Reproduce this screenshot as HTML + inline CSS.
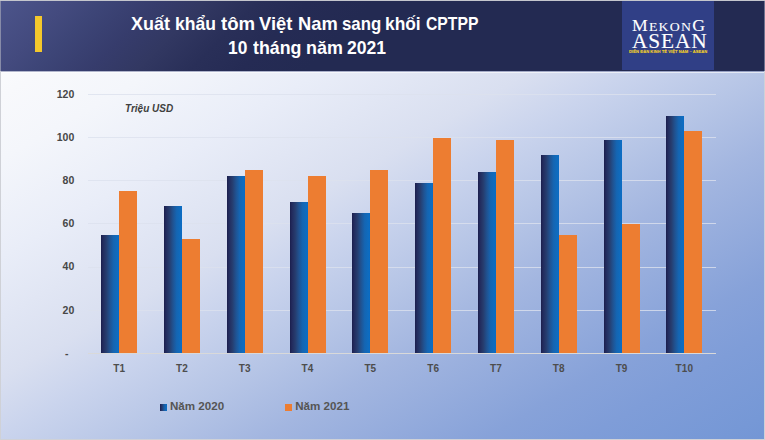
<!DOCTYPE html>
<html><head><meta charset="utf-8">
<style>
*{margin:0;padding:0;box-sizing:border-box}
html,body{width:765px;height:440px;overflow:hidden;background:#cfd1d7;font-family:"Liberation Sans",sans-serif;position:relative}
#hdr{position:absolute;left:1px;top:1px;width:762.5px;height:70px;background:linear-gradient(135deg,#4d558c 0%,#4a5288 2%,#434a7e 8.5%,#3d4577 12.5%,#363c6c 19%,#323862 24.5%,#292f58 31%,#252b54 37%,#232a52 45%,#232a52 100%)}
#bar{position:absolute;left:35px;top:16px;width:7px;height:36px;background:#f4c82c}
.tw{position:absolute;color:#fff;font-weight:bold;white-space:nowrap;font-size:17.8px;transform-origin:0 0}
#logo{position:absolute;left:621.5px;top:1.4px;width:92px;height:69px;background:#303f86}
.lg{position:absolute;font-weight:normal;-webkit-text-stroke:0.1px #fff;font-family:"Liberation Serif",serif;color:#fff;white-space:nowrap;line-height:1}
#lgy{position:absolute;left:629px;top:49.6px;font-size:4.1px;letter-spacing:0.05px;line-height:4px;font-weight:bold;color:#f5d327;white-space:nowrap;-webkit-text-stroke:0.1px #f5d327}
#chart{position:absolute;left:1px;top:71px;width:762.5px;height:367.5px;background:linear-gradient(150deg,#fafbfd 0%,#f8f9fc 3%,#f4f6fb 11%,#e9edf8 23%,#d9dff0 38%,#cad4ed 45%,#b6c5e6 55%,#a3b6e0 64%,#87a2d9 80%,#7f9dd8 87%,#7698d6 97%,#7396d5 100%)}
.g{position:absolute;left:87.5px;width:628.5px;height:1px;background:rgba(220,225,238,.8)}
#axis{position:absolute;left:87.5px;width:628.5px;top:353px;height:1.3px;background:#d9d9d9}
.yl{position:absolute;left:40px;width:34.3px;text-align:right;font-size:10.5px;letter-spacing:0.05px;line-height:12px;font-weight:bold;color:#474747}
.xl{position:absolute;width:40px;text-align:center;font-size:10px;letter-spacing:0.1px;line-height:12px;font-weight:bold;color:#4d4d4d}
.b{position:absolute;width:18px}
.b1{background:linear-gradient(to right,#1a1e4c 0%,#222a5c 10%,#263d6f 30%,#205392 50%,#1565b2 70%,#0f6cbf 90%,#0a6bc4 100%)}
.b2{background:#ed7d31}
#unit{position:absolute;left:125.3px;top:102.1px;font-size:11px;transform:scaleX(0.91);transform-origin:0 0;font-weight:bold;font-style:italic;color:#404040;white-space:nowrap}
.lm{position:absolute;width:6.5px;height:6.5px;top:404.3px}
.lt{position:absolute;top:399.1px;font-size:11.6px;font-weight:bold;color:#555;white-space:nowrap}
</style></head><body>
<div id="hdr"></div>
<div style="position:absolute;left:0;top:0;width:765px;height:1px;background:#c4c6cd"></div>
<div style="position:absolute;left:0;top:1px;width:1px;height:70px;background:#878ba8"></div>
<div style="position:absolute;left:763.5px;top:1px;width:1.5px;height:70px;background:#6f728f"></div>
<div id="bar"></div>
<div class="tw" style="left:130.98px;top:13.6px;transform:scaleX(1.01)">Xuất</div>
<div class="tw" style="left:174.74px;top:13.6px;transform:scaleX(0.9861)">khẩu</div>
<div class="tw" style="left:220.75px;top:13.6px;transform:scaleX(1.0475)">tôm</div>
<div class="tw" style="left:259.48px;top:13.6px;transform:scaleX(1.034)">Việt</div>
<div class="tw" style="left:298.24px;top:13.6px;transform:scaleX(1.029)">Nam</div>
<div class="tw" style="left:341.64px;top:13.6px;transform:scaleX(0.9436)">sang</div>
<div class="tw" style="left:384.75px;top:13.6px;transform:scaleX(0.9765)">khối</div>
<div class="tw" style="left:425.97px;top:13.6px;transform:scaleX(0.8836)">CPTPP</div>
<div class="tw" style="left:227.96px;top:38.1px;transform:scaleX(0.9758)">10</div>
<div class="tw" style="left:252.61px;top:38.1px;transform:scaleX(1.0007)">tháng</div>
<div class="tw" style="left:305.5px;top:38.1px;transform:scaleX(1.0064)">năm</div>
<div class="tw" style="left:346.96px;top:38.1px;transform:scaleX(0.9897)">2021</div>
<div id="logo"></div>
<div class="lg" style="left:631.5px;top:17.6px;font-size:15.8px;letter-spacing:1.1px;transform:scaleX(1.12);transform-origin:0 0">M<span style="font-size:12.3px">EKON</span>G</div>
<div class="lg" style="left:632px;top:31.4px;font-size:20px;letter-spacing:0.8px;transform:scaleX(1.07);transform-origin:0 0">ASEAN</div>
<div id="lgy">DIỄN ĐÀN KINH TẾ VIỆT NAM – ASEAN</div>
<div id="chart"></div>
<div style="position:absolute;left:1px;top:71px;width:762.5px;height:1px;background:rgba(120,128,165,0.55)"></div>
<div style="position:absolute;left:1px;top:72px;width:762.5px;height:1px;background:rgba(255,255,255,0.6)"></div>
<div class="g" style="top:310px"></div>
<div class="g" style="top:266.5px"></div>
<div class="g" style="top:223px"></div>
<div class="g" style="top:180px"></div>
<div class="g" style="top:137px"></div>
<div class="g" style="top:94px"></div>
<div id="axis"></div>
<div class="b b1" style="left:101px;width:18px;top:235px;height:118px"></div>
<div class="b b2" style="left:119px;width:18px;top:191px;height:162px"></div>
<div class="xl" style="left:99.11px;top:363.3px">T1</div>
<div class="b b1" style="left:164px;width:18px;top:206px;height:147px"></div>
<div class="b b2" style="left:182px;width:18px;top:239px;height:114px"></div>
<div class="xl" style="left:161.92px;top:363.3px">T2</div>
<div class="b b1" style="left:227px;width:18px;top:176px;height:177px"></div>
<div class="b b2" style="left:245px;width:18px;top:170px;height:183px"></div>
<div class="xl" style="left:224.73px;top:363.3px">T3</div>
<div class="b b1" style="left:290px;width:18px;top:202px;height:151px"></div>
<div class="b b2" style="left:308px;width:18px;top:176px;height:177px"></div>
<div class="xl" style="left:287.54px;top:363.3px">T4</div>
<div class="b b1" style="left:352px;width:18px;top:213px;height:140px"></div>
<div class="b b2" style="left:370px;width:18px;top:170px;height:183px"></div>
<div class="xl" style="left:350.34px;top:363.3px">T5</div>
<div class="b b1" style="left:415px;width:18px;top:183px;height:170px"></div>
<div class="b b2" style="left:433px;width:18px;top:138px;height:215px"></div>
<div class="xl" style="left:413.16px;top:363.3px">T6</div>
<div class="b b1" style="left:478px;width:18px;top:172px;height:181px"></div>
<div class="b b2" style="left:496px;width:18px;top:140px;height:213px"></div>
<div class="xl" style="left:475.96px;top:363.3px">T7</div>
<div class="b b1" style="left:541px;width:18px;top:155px;height:198px"></div>
<div class="b b2" style="left:559px;width:18px;top:235px;height:118px"></div>
<div class="xl" style="left:538.78px;top:363.3px">T8</div>
<div class="b b1" style="left:604px;width:18px;top:140px;height:213px"></div>
<div class="b b2" style="left:622px;width:18px;top:224px;height:129px"></div>
<div class="xl" style="left:601.59px;top:363.3px">T9</div>
<div class="b b1" style="left:666px;width:18px;top:116px;height:237px"></div>
<div class="b b2" style="left:684px;width:18px;top:131px;height:222px"></div>
<div class="xl" style="left:664.40px;top:363.3px">T10</div>
<div class="yl" style="top:347.00px;left:34.2px">-</div>
<div class="yl" style="top:303.50px">20</div>
<div class="yl" style="top:260.40px">40</div>
<div class="yl" style="top:217.30px">60</div>
<div class="yl" style="top:174.20px">80</div>
<div class="yl" style="top:131.10px">100</div>
<div class="yl" style="top:88.00px">120</div>
<div id="unit">Triệu USD</div>
<div class="lm b1" style="left:160.2px"></div>
<div class="lt" style="left:170px">Năm 2020</div>
<div class="lm b2" style="left:285.2px"></div>
<div class="lt" style="left:295.2px">Năm 2021</div>
</body></html>
